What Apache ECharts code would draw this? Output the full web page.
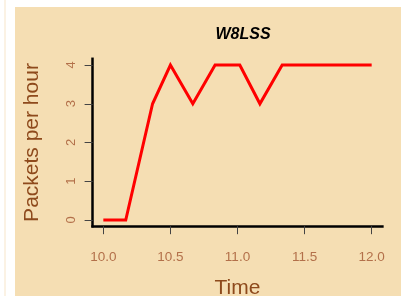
<!DOCTYPE html>
<html>
<head>
<meta charset="utf-8">
<script src="https://cdn.jsdelivr.net/npm/echarts@6/dist/echarts.min.js"></script>
<style>
  html, body { margin: 0; padding: 0; background: #fff; }
  #wrap { position: relative; width: 401px; height: 296px; overflow: hidden; }
  /* page decoration around the plot */
  #edge { position: absolute; left: 4px; top: 0; width: 2px; height: 296px; background: #FBF2E4; }
  #panel { position: absolute; left: 15px; top: 7px; right: 0; bottom: 0; background: #F5DEB3; }
  #chart { position: absolute; left: 0; top: 0; width: 401px; height: 296px; }
</style>
</head>
<body>
<div id="wrap">
  <div id="edge"></div>
  <div id="panel"></div>
  <div id="chart"></div>
</div>
<script>
/* ── Data ── */
const TIMES   = [10.0, 10.167, 10.367, 10.5, 10.667, 10.833, 11.017, 11.167, 11.333, 12.0];
const PACKETS = [0, 0, 3, 4, 3, 4, 4, 3, 4, 4];
const X_TICKS = [10.0, 10.5, 11.0, 11.5, 12.0];
const Y_TICKS = [0, 1, 2, 3, 4];

/* ── Colors ── */
const LINE_RED   = '#FF0000';
const TICK_BROWN = '#B3704A';
const NAME_BROWN = '#8E4A1C';

const FONT = '"Liberation Sans", Arial, Helvetica, sans-serif';

const chart = echarts.init(document.getElementById('chart'), null, { renderer: 'canvas' });

const axisLine = { show: true, onZero: false, lineStyle: { color: '#000', width: 2.5, cap: 'square' } };
const axisTick = { show: true, length: 8, lineStyle: { color: '#444', width: 1 } };

chart.setOption({
    animation: false,
    backgroundColor: 'transparent',
    title: {
        text: 'W8LSS',
        left: 238,
        top: 22,
        textAlign: 'center',
        textStyle: { fontFamily: FONT, fontSize: 16, fontWeight: 'bold', fontStyle: 'italic', color: '#000' },
    },
    grid: { left: 92.6, right: 18.6, top: 58.8, bottom: 69.8, outerBoundsMode: 'none', containLabel: false },
    xAxis: {
        type: 'value',
        min: 9.92,
        max: 12.08,
        name: 'Time',
        nameLocation: 'middle',
        nameGap: 52,
        nameTextStyle: { fontFamily: FONT, fontSize: 21, color: NAME_BROWN },
        axisLine,
        axisTick: { ...axisTick, customValues: X_TICKS },
        axisLabel: {
            customValues: X_TICKS,
            margin: 24,
            fontFamily: FONT,
            fontSize: 13.5,
            color: TICK_BROWN,
            formatter: v => v.toFixed(1),
        },
        splitLine: { show: false },
    },
    yAxis: {
        type: 'value',
        min: -0.16,
        max: 4.16,
        name: 'Packets per hour',
        nameLocation: 'middle',
        nameRotate: 90,
        nameGap: 50,
        nameTextStyle: { fontFamily: FONT, fontSize: 21, color: NAME_BROWN },
        axisLine,
        axisTick: { ...axisTick, customValues: Y_TICKS },
        axisLabel: {
            customValues: Y_TICKS,
            rotate: 90,
            margin: 15,
            fontFamily: FONT,
            fontSize: 13,
            color: TICK_BROWN,
            formatter: v => String(v),
        },
        splitLine: { show: false },
    },
    series: [
        {
            type: 'line',
            data: TIMES.map((t, i) => [t, PACKETS[i]]),
            showSymbol: false,
            lineStyle: { color: LINE_RED, width: 3, join: 'miter' },
        },
    ],
});
</script>
</body>
</html>
